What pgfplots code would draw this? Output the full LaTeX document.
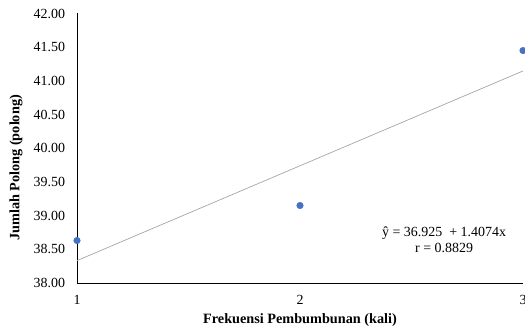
\documentclass[border=0pt]{standalone}
\usepackage{pgfplots}
\pgfplotsset{compat=1.18}
\usetikzlibrary{calc}
\usepackage{fontspec}
\setmainfont{Liberation Serif}
\definecolor{ptblue}{RGB}{68,114,196}
\definecolor{trendgray}{RGB}{165,165,165}
\begin{document}
\begin{tikzpicture}
\begin{axis}[
  width=446bp, height=269.5bp, scale only axis,
  xmin=1, xmax=3, ymin=38, ymax=42,
  axis lines=left,
  axis line style={line width=0.9bp, -},
  xtick={1,2,3},
  ytick={38,38.5,39,39.5,40,40.5,41,41.5,42},
  major tick length=0pt,
  /pgf/number format/assume math mode=true,
  yticklabel style={/pgf/number format/.cd, fixed, fixed zerofill, precision=2, /tikz/.cd, font=\fontsize{14}{16}\selectfont, xshift=-8.5bp},
  xticklabel style={font=\fontsize{14}{16}\selectfont, yshift=-9bp},
  xlabel={\textbf{Frekuensi Pembumbunan (kali)}},
  ylabel={\textbf{Jumlah Polong (polong)}},
  xlabel style={font=\fontsize{14.3}{16}\selectfont, at={(axis description cs:0.5,-0.137)}, anchor=center},
  ylabel style={font=\fontsize{14.3}{16}\selectfont, at={(axis description cs:-0.137,0.427)}, anchor=center},
  clip=false,
]
\addplot[color=trendgray, line width=0.7bp] coordinates {(1,38.3324) (3,41.1472)};
\addplot[only marks, mark=*, mark size=3.3bp, color=ptblue] coordinates {
  (1,38.63) (2,39.15) (3,41.45)
};
\node[align=center, font=\fontsize{14}{16.3}\selectfont, inner sep=0pt] at (axis cs:2.646,38.638) {ŷ = 36.925 \ + 1.4074x\\r = 0.8829};
\coordinate (ll) at (rel axis cs:0,0);
\coordinate (ur) at (rel axis cs:1,1);
\end{axis}
\pgfresetboundingbox
\path[use as bounding box] ($(ll)+(-77bp,-47bp)$) rectangle ($(ur)+(2bp,13.5bp)$);
\end{tikzpicture}
\end{document}
